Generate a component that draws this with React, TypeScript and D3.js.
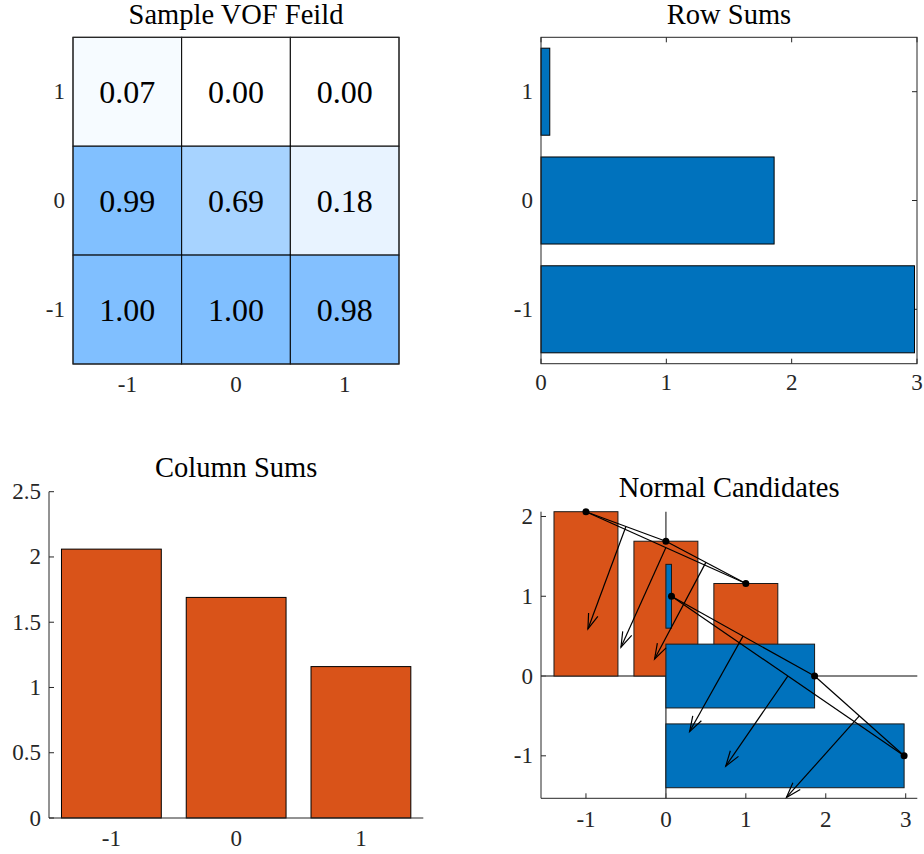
import React from "react";
import * as d3 from "d3";

// Grid coordinates of the 3x3 stencil
const cols = [-1, 0, 1];
const rows = [1, 0, -1];

// Volume-of-fluid values, one array per stencil row (top to bottom)
const vofRowTop = [0.07, 0.0, 0.0];
const vofRowMid = [0.99, 0.69, 0.18];
const vofRowBottom = [1.0, 1.0, 0.98];

// Sums along each row (for rows 1, 0, -1) and each column (for cols -1, 0, 1)
const rowSums = [0.07, 1.86, 2.98];
const colSums = [2.06, 1.69, 1.16];

// Tick values
const rowSumXTicks = [0, 1, 2, 3];
const colSumYTicks = [0, 0.5, 1, 1.5, 2, 2.5];
const normalXTicks = [-1, 0, 1, 2, 3];
const normalYTicks = [-1, 0, 1, 2];

const titles = ["Sample VOF Feild", "Row Sums", "Column Sums", "Normal Candidates"];

// Length of every candidate normal, in data units
const ARROW_LEN = 1.37;
const BAR_W = 0.8;

const ORANGE = "#D95319";
const BLUE = "#0072BD";
const AXIS = "#262626";
const FONT =
  "'Liberation Serif', 'DejaVu Serif', 'Noto Serif', 'Tinos', 'Times New Roman', Times, 'Nimbus Roman', 'FreeSerif', serif";
const TICK_FS = 23;
const TITLE_FS = 28.5;
const CELL_FS = 32;
const TICK_LEN = 5;

const heatColor = d3.interpolateRgb("#ffffff", "#80bfff");
const fmt = (v: number) => (v < 0 ? "-" + String(-v) : String(v));

type Pt = [number, number];

function Arrow({ s, e, x, y }: { s: Pt; e: Pt; x: any; y: any }) {
  const x1 = x(s[0]), y1 = y(s[1]), x2 = x(e[0]), y2 = y(e[1]);
  const ang = Math.atan2(y2 - y1, x2 - x1);
  const head = 16;
  const spread = (18 * Math.PI) / 180;
  const a1 = ang + Math.PI - spread;
  const a2 = ang + Math.PI + spread;
  return (
    <g stroke="#000" strokeWidth={1.2} fill="none">
      <line x1={x1} y1={y1} x2={x2} y2={y2} />
      <polyline
        points={`${x2 + head * Math.cos(a1)},${y2 + head * Math.sin(a1)} ${x2},${y2} ${x2 + head * Math.cos(a2)},${y2 + head * Math.sin(a2)}`}
      />
    </g>
  );
}

function HeatmapPanel() {
  const x = d3.scaleLinear().domain([-1.5, 1.5]).range([73, 399]);
  const y = d3.scaleLinear().domain([-1.5, 1.5]).range([364, 37.3]);
  const field = [vofRowTop, vofRowMid, vofRowBottom];
  return (
    <g>
      <text x={(x(-1.5) + x(1.5)) / 2} y={24} textAnchor="middle" fontSize={TITLE_FS} fill="#000">
        {titles[0]}
      </text>
      {field.map((rowVals, ri) =>
        rowVals.map((v, ci) => {
          const cx = cols[ci], cy = rows[ri];
          return (
            <g key={`${ri}-${ci}`}>
              <rect
                x={x(cx - 0.5)}
                y={y(cy + 0.5)}
                width={x(cx + 0.5) - x(cx - 0.5)}
                height={y(cy - 0.5) - y(cy + 0.5)}
                fill={heatColor(v)}
                stroke="#000"
                strokeWidth={1}
              />
              <text
                x={x(cx)}
                y={y(cy)}
                textAnchor="middle"
                dominantBaseline="central"
                fontSize={CELL_FS}
                fill="#000"
              >
                {v.toFixed(2)}
              </text>
            </g>
          );
        })
      )}
      <rect x={x(-1.5)} y={y(1.5)} width={x(1.5) - x(-1.5)} height={y(-1.5) - y(1.5)} fill="none" stroke={AXIS} strokeWidth={1} />
      {rows.map((r) => (
        <text key={`yl${r}`} x={x(-1.5) - 8} y={y(r)} textAnchor="end" dominantBaseline="central" fontSize={TICK_FS} fill={AXIS}>
          {fmt(r)}
        </text>
      ))}
      {cols.map((c) => (
        <text key={`xl${c}`} x={x(c)} y={y(-1.5) + 20} textAnchor="middle" dominantBaseline="central" fontSize={TICK_FS} fill={AXIS}>
          {fmt(c)}
        </text>
      ))}
    </g>
  );
}

function RowSumsPanel() {
  const x = d3.scaleLinear().domain([0, 3]).range([541, 917]);
  const y = d3.scaleLinear().domain([-1.5, 1.5]).range([363.7, 37.3]);
  const [x0, x1] = x.range();
  const [yb, yt] = y.range();
  return (
    <g>
      <text x={(x0 + x1) / 2} y={24} textAnchor="middle" fontSize={TITLE_FS} fill="#000">
        {titles[1]}
      </text>
      <g stroke={AXIS} strokeWidth={1}>
        {rowSumXTicks.map((t) => (
          <g key={`xt${t}`}>
            <line x1={x(t)} x2={x(t)} y1={yb} y2={yb - TICK_LEN} />
            <line x1={x(t)} x2={x(t)} y1={yt} y2={yt + TICK_LEN} />
          </g>
        ))}
        {rows.map((r) => (
          <g key={`yt${r}`}>
            <line x1={x0} x2={x0 + TICK_LEN} y1={y(r)} y2={y(r)} />
            <line x1={x1} x2={x1 - TICK_LEN} y1={y(r)} y2={y(r)} />
          </g>
        ))}
      </g>
      {rows.map((r, i) => (
        <rect
          key={`b${r}`}
          x={x(0)}
          y={y(r + BAR_W / 2)}
          width={x(rowSums[i]) - x(0)}
          height={y(r - BAR_W / 2) - y(r + BAR_W / 2)}
          fill={BLUE}
          stroke="#000"
          strokeWidth={1}
        />
      ))}
      <rect x={x0} y={yt} width={x1 - x0} height={yb - yt} fill="none" stroke={AXIS} strokeWidth={1} />
      {rows.map((r) => (
        <text key={`yl${r}`} x={x0 - 8} y={y(r)} textAnchor="end" dominantBaseline="central" fontSize={TICK_FS} fill={AXIS}>
          {fmt(r)}
        </text>
      ))}
      {rowSumXTicks.map((t) => (
        <text key={`xl${t}`} x={x(t)} y={yb + 19} textAnchor="middle" dominantBaseline="central" fontSize={TICK_FS} fill={AXIS}>
          {fmt(t)}
        </text>
      ))}
    </g>
  );
}

function ColSumsPanel() {
  const x = d3.scaleLinear().domain([-1.5, 1.5]).range([49, 423.3]);
  const y = d3.scaleLinear().domain([0, 2.5]).range([818, 491.7]);
  const [x0, x1] = x.range();
  const [yb, yt] = y.range();
  return (
    <g>
      <text x={(x0 + x1) / 2} y={477} textAnchor="middle" fontSize={TITLE_FS} fill="#000">
        {titles[2]}
      </text>
      <g stroke={AXIS} strokeWidth={1}>
        {colSumYTicks.map((t) => (
          <line key={`yt${t}`} x1={x0} x2={x0 + TICK_LEN} y1={y(t)} y2={y(t)} />
        ))}
        {cols.map((c) => (
          <line key={`xt${c}`} x1={x(c)} x2={x(c)} y1={yb} y2={yb - TICK_LEN} />
        ))}
      </g>
      {cols.map((c, i) => (
        <rect
          key={`b${c}`}
          x={x(c - BAR_W / 2)}
          y={y(colSums[i])}
          width={x(c + BAR_W / 2) - x(c - BAR_W / 2)}
          height={y(0) - y(colSums[i])}
          fill={ORANGE}
          stroke="#000"
          strokeWidth={1}
        />
      ))}
      <g stroke={AXIS} strokeWidth={1}>
        <line x1={x0} x2={x0} y1={yt} y2={yb} />
        <line x1={x0} x2={x1} y1={yb} y2={yb} />
      </g>
      {colSumYTicks.map((t) => (
        <text key={`yl${t}`} x={x0 - 8} y={y(t)} textAnchor="end" dominantBaseline="central" fontSize={TICK_FS} fill={AXIS}>
          {fmt(t)}
        </text>
      ))}
      {cols.map((c) => (
        <text key={`xl${c}`} x={x(c)} y={yb + 20} textAnchor="middle" dominantBaseline="central" fontSize={TICK_FS} fill={AXIS}>
          {fmt(c)}
        </text>
      ))}
    </g>
  );
}

function NormalsPanel() {
  const x = d3.scaleLinear().domain([-1.5625, 3.145]).range([541, 917.3]);
  const y = d3.scaleLinear().domain([-1.5325, 2.06]).range([798.3, 511.7]);
  const [x0, x1] = x.range();
  const [yb, yt] = y.range();

  // Candidate points: column sums placed over their column, row sums beside their row
  const colPts: Pt[] = cols.map((c, i) => [c, colSums[i]]);
  const rowPts: Pt[] = rows.map((r, i) => [rowSums[i], r]);

  const pairs = (pts: Pt[]) => {
    const out: [Pt, Pt][] = [];
    for (let i = 0; i < pts.length; i++)
      for (let j = i + 1; j < pts.length; j++) {
        const a = pts[i], b = pts[j];
        out.push(a[0] <= b[0] ? [a, b] : [b, a]);
      }
    return out;
  };
  const segments = [...pairs(colPts), ...pairs(rowPts)];

  // Normal to each segment, from its midpoint, toward lower left
  const arrows = segments.map(([a, b]) => {
    const dx = b[0] - a[0], dy = b[1] - a[1];
    const len = Math.hypot(dx, dy);
    const nx = dy / len, ny = -dx / len;
    const m: Pt = [(a[0] + b[0]) / 2, (a[1] + b[1]) / 2];
    const e: Pt = [m[0] + nx * ARROW_LEN, m[1] + ny * ARROW_LEN];
    return { s: m, e };
  });

  return (
    <g>
      <text x={(x0 + x1) / 2} y={497} textAnchor="middle" fontSize={TITLE_FS} fill="#000">
        {titles[3]}
      </text>
      <g stroke={AXIS} strokeWidth={1}>
        {normalYTicks.map((t) => (
          <line key={`yt${t}`} x1={x0} x2={x0 + TICK_LEN} y1={y(t)} y2={y(t)} />
        ))}
        {normalXTicks.map((t) => (
          <line key={`xt${t}`} x1={x(t)} x2={x(t)} y1={yb} y2={yb - TICK_LEN} />
        ))}
      </g>
      <g stroke="#5a5a5a" strokeWidth={1.5}>
        <line x1={x(0)} x2={x(0)} y1={yt} y2={yb} />
        <line x1={x0} x2={x1} y1={y(0)} y2={y(0)} />
      </g>
      {cols.map((c, i) => (
        <rect
          key={`cb${c}`}
          x={x(c - BAR_W / 2)}
          y={y(colSums[i])}
          width={x(c + BAR_W / 2) - x(c - BAR_W / 2)}
          height={y(0) - y(colSums[i])}
          fill={ORANGE}
          stroke="#1a1a1a"
          strokeWidth={1}
        />
      ))}
      {rows.map((r, i) => (
        <rect
          key={`rb${r}`}
          x={x(0)}
          y={y(r + BAR_W / 2)}
          width={x(rowSums[i]) - x(0)}
          height={y(r - BAR_W / 2) - y(r + BAR_W / 2)}
          fill={BLUE}
          stroke="#1a1a1a"
          strokeWidth={1}
        />
      ))}
      <g stroke="#000" strokeWidth={1.2}>
        {segments.map(([a, b], i) => (
          <line key={`s${i}`} x1={x(a[0])} y1={y(a[1])} x2={x(b[0])} y2={y(b[1])} />
        ))}
      </g>
      {arrows.map((a, i) => (
        <Arrow key={`a${i}`} s={a.s} e={a.e} x={x} y={y} />
      ))}
      {[...colPts, ...rowPts].map((p, i) => (
        <circle key={`p${i}`} cx={x(p[0])} cy={y(p[1])} r={3.5} fill="#000" />
      ))}
      <g stroke={AXIS} strokeWidth={1}>
        <line x1={x0} x2={x0} y1={yt} y2={yb} />
        <line x1={x0} x2={x1} y1={yb} y2={yb} />
      </g>
      {normalYTicks.map((t) => (
        <text key={`yl${t}`} x={x0 - 8} y={y(t)} textAnchor="end" dominantBaseline="central" fontSize={TICK_FS} fill={AXIS}>
          {fmt(t)}
        </text>
      ))}
      {normalXTicks.map((t) => (
        <text key={`xl${t}`} x={x(t)} y={yb + 21} textAnchor="middle" dominantBaseline="central" fontSize={TICK_FS} fill={AXIS}>
          {fmt(t)}
        </text>
      ))}
    </g>
  );
}

export default function App() {
  return (
    <svg
      width={924}
      height={854}
      viewBox="0 0 924 854"
      style={{ position: "absolute", left: 0, top: 0, background: "#fff", fontFamily: FONT }}
    >
      <rect width={924} height={854} fill="#fff" />
      <HeatmapPanel />
      <RowSumsPanel />
      <ColSumsPanel />
      <NormalsPanel />
    </svg>
  );
}
